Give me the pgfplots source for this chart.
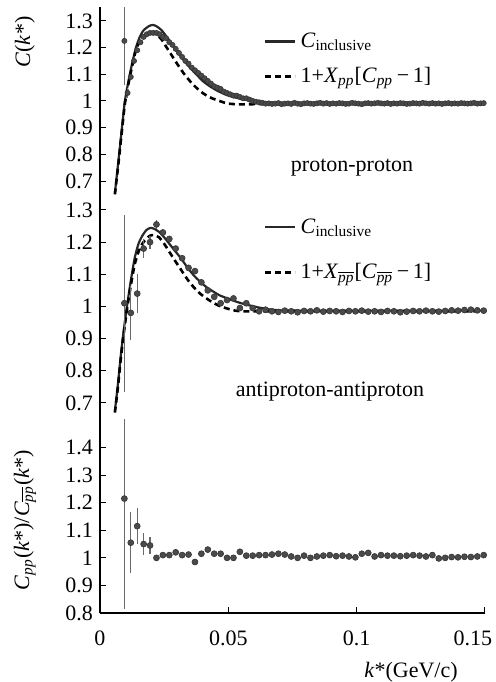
\documentclass[border=0pt]{standalone}
\usepackage{fontspec}
\setmainfont{Liberation Serif}
\usepackage{pgfplots}
\pgfplotsset{compat=1.18}

\definecolor{dotgray}{RGB}{74,74,74}
\definecolor{curvegray}{RGB}{40,40,40}
\definecolor{bargray}{RGB}{105,105,105}

\newcommand{\lbl}{\fontsize{11}{13}\selectfont}

\pgfplotsset{
  panel/.style={
    scale only axis, width=192.5pt,
    xmin=0, xmax=0.15,
    axis y line*=left,
    tick align=inside,
    major tick length=3pt,
    tick style={black, line width=0.5pt},
    axis line style={black, line width=0.6pt},
    /pgf/number format/assume math mode=true,
    tick label style={font=\lbl},
    clip mode=individual,
    legend image code/.code={\draw[##1] (0pt,0pt) -- (15pt,0pt);},
  },
  solidcurve/.style={curvegray, line width=1.1pt, smooth, tension=0.4},
  dashcurve/.style={black, line width=1.3pt, dash pattern=on 3pt off 2pt, smooth, tension=0.4},
  dots/.style={only marks, mark=*, mark size=#1,
    mark options={fill=dotgray, draw=dotgray!70!black, line width=0.3pt, solid},
    error bars/y dir=both, error bars/y explicit, error bars/error mark=none,
    error bars/error bar style={bargray, line width=0.6pt}},
}

% pp data, k [GeV/c], C, error
\pgfplotstableread{
k C e
0.0095 1.225 0.165
0.01075 1.03 0.02
0.012 1.09 0
0.01325 1.15 0
0.0145 1.19 0
0.01575 1.22 0
0.017 1.24 0
0.01825 1.25 0
0.0195 1.255 0
0.02075 1.255 0
0.022 1.255 0
0.02325 1.25 0
0.0245 1.24 0
0.02575 1.235 0
0.027 1.22 0
0.02825 1.21 0
0.0295 1.195 0
0.03075 1.18 0
0.032 1.165 0
0.03325 1.15 0
0.0345 1.14 0
0.03575 1.125 0
0.037 1.115 0
0.03825 1.105 0
0.0395 1.095 0
0.04075 1.085 0
0.042 1.075 0
0.04325 1.065 0
0.0445 1.055 0
0.04575 1.05 0
0.047 1.045 0
0.04825 1.035 0
0.0495 1.03 0
0.05075 1.025 0
0.052 1.02 0
0.05325 1.02 0
0.0545 1.015 0
0.05575 1.01 0
0.057 1.01 0
0.05825 1.005 0
0.0595 1.0 0
0.06075 0.997 0
0.062 0.995 0
0.06325 0.993 0
0.0645 0.99 0
0.06575 0.991 0
0.067 0.989 0
0.06825 0.990 0
0.0695 0.992 0
0.07075 0.988 0
0.072 0.990 0
0.07325 0.991 0
0.0745 0.989 0
0.07575 0.993 0
0.077 0.990 0
0.07825 0.988 0
0.0795 0.991 0
0.08075 0.992 0
0.082 0.990 0
0.08325 0.989 0
0.0845 0.991 0
0.08575 0.993 0
0.087 0.990 0
0.08825 0.992 0
0.0895 0.989 0
0.09075 0.991 0
0.092 0.990 0
0.09325 0.992 0
0.0945 0.991 0
0.09575 0.989 0
0.097 0.990 0
0.09825 0.993 0
0.0995 0.991 0
0.10075 0.990 0
0.102 0.988 0
0.10325 0.991 0
0.1045 0.992 0
0.10575 0.990 0
0.107 0.991 0
0.10825 0.993 0
0.1095 0.991 0
0.11075 0.990 0
0.112 0.992 0
0.11325 0.989 0
0.1145 0.991 0
0.11575 0.990 0
0.117 0.992 0
0.11825 0.991 0
0.1195 0.989 0
0.12075 0.990 0
0.122 0.992 0
0.12325 0.991 0
0.1245 0.990 0
0.12575 0.993 0
0.127 0.991 0
0.12825 0.990 0
0.1295 0.992 0
0.13075 0.990 0
0.132 0.991 0
0.13325 0.989 0
0.1345 0.991 0
0.13575 0.992 0
0.137 0.990 0
0.13825 0.991 0
0.1395 0.990 0
0.14075 0.992 0
0.142 0.991 0
0.14325 0.990 0
0.1445 0.991 0
0.14575 0.993 0
0.147 0.990 0
0.14825 0.991 0
0.1495 0.992 0
}\pptable

% antiproton-antiproton data
\pgfplotstableread{
k C e
0.0095 1.01 0.275
0.012 0.98 0.085
0.0145 1.04 0.06
0.017 1.18 0.03
0.0195 1.20 0.02
0.022 1.255 0.015
0.0245 1.23 0.01
0.027 1.21 0
0.0295 1.18 0
0.032 1.15 0
0.0345 1.12 0
0.037 1.11 0
0.0395 1.075 0
0.042 1.05 0
0.0445 1.03 0
0.047 1.01 0
0.0495 1.02 0
0.052 1.025 0
0.0545 0.995 0
0.057 1.01 0
0.0595 0.995 0
0.062 0.985 0
0.0645 0.99 0
0.067 0.985 0
0.0695 0.983 0
0.072 0.987 0
0.0745 0.985 0
0.077 0.982 0
0.0795 0.986 0
0.082 0.985 0
0.0845 0.988 0
0.087 0.984 0
0.0895 0.986 0
0.092 0.985 0
0.0945 0.983 0
0.097 0.986 0
0.0995 0.985 0
0.102 0.987 0
0.1045 0.984 0
0.107 0.985 0
0.1095 0.983 0
0.112 0.986 0
0.1145 0.985 0
0.117 0.982 0
0.1195 0.984 0
0.122 0.986 0
0.1245 0.985 0
0.127 0.987 0
0.1295 0.985 0
0.132 0.984 0
0.1345 0.986 0
0.137 0.988 0
0.1395 0.987 0
0.142 0.989 0
0.1445 0.990 0
0.147 0.988 0
0.1495 0.987 0
}\pbartable

% ratio pp / antiproton-antiproton
\pgfplotstableread{
k R e
0.0095 1.215 0.4
0.012 1.055 0.11
0.0145 1.115 0.065
0.017 1.05 0.04
0.0195 1.045 0.03
0.022 1.0 0
0.0245 1.01 0
0.027 1.01 0
0.0295 1.02 0
0.032 1.01 0
0.0345 1.012 0
0.037 0.985 0
0.0395 1.015 0
0.042 1.03 0
0.0445 1.015 0
0.047 1.015 0
0.0495 1.0 0
0.052 1.0 0
0.0545 1.022 0
0.057 1.008 0
0.0595 1.008 0
0.062 1.01 0
0.0645 1.01 0
0.067 1.012 0
0.0695 1.015 0
0.072 1.012 0
0.0745 1.005 0
0.077 1.0 0
0.0795 1.008 0
0.082 1.0 0
0.0845 1.005 0
0.087 1.008 0
0.0895 1.01 0
0.092 1.006 0
0.0945 1.008 0
0.097 1.005 0
0.0995 1.002 0
0.102 1.015 0
0.1045 1.018 0
0.107 1.005 0
0.1095 1.01 0
0.112 1.008 0
0.1145 1.008 0
0.117 1.006 0
0.1195 1.008 0
0.122 1.01 0
0.1245 1.008 0
0.127 1.005 0
0.1295 1.01 0
0.132 0.998 0
0.1345 1.0 0
0.137 1.003 0
0.1395 1.002 0
0.142 1.004 0
0.1445 1.003 0
0.147 1.005 0
0.1495 1.01 0
}\ratiotable

\begin{document}
\begin{tikzpicture}
\path[use as bounding box] (-50pt,-34.5pt) rectangle (198pt,306.5pt);

% ---------------- top: proton-proton
\begin{axis}[panel, at={(0pt,206.5pt)}, anchor=south west,
    height=96.5pt, ymin=0.629, ymax=1.352, hide x axis,
    ytick={0.7,0.8,0.9,1,1.1,1.2,1.3},
    yticklabels={0.7,0.8,0.9,1,1.1,1.2,1.3},
    legend style={draw=none, fill=none, inner sep=0pt, font=\lbl,
      at={(rel axis cs:0.425,0.73)}, anchor=west, cells={anchor=west},
      row sep=4.5pt},
]
\addplot[solidcurve] coordinates {
 (0.0058,0.655) (0.007,0.76) (0.008,0.85) (0.009,0.94) (0.0097,1.0)
 (0.011,1.07) (0.0125,1.14) (0.014,1.2) (0.0155,1.24) (0.017,1.265)
 (0.019,1.28) (0.0205,1.285) (0.022,1.28) (0.024,1.265) (0.026,1.24)
 (0.028,1.215) (0.030,1.19) (0.0325,1.155) (0.035,1.125) (0.0375,1.1)
 (0.040,1.075) (0.0425,1.057) (0.045,1.042) (0.0475,1.03) (0.050,1.02)
 (0.055,1.008) (0.06,1.0) (0.065,0.995) (0.07,0.993) (0.08,0.992)
 (0.1,0.992) (0.12,0.992) (0.15,0.992)};
\addlegendentry{\textit{C}\textsubscript{inclusive}}
\addplot[dashcurve] coordinates {
 (0.0058,0.65) (0.007,0.75) (0.008,0.84) (0.009,0.93) (0.0097,0.99)
 (0.011,1.06) (0.0125,1.13) (0.014,1.19) (0.0155,1.225) (0.017,1.245)
 (0.019,1.255) (0.0205,1.255) (0.022,1.25) (0.024,1.23) (0.026,1.2)
 (0.028,1.17) (0.030,1.14) (0.0325,1.105) (0.035,1.075) (0.0375,1.05)
 (0.040,1.03) (0.0425,1.015) (0.045,1.005) (0.0475,0.997) (0.050,0.99)
 (0.055,0.987) (0.06,0.988) (0.07,0.99) (0.1,0.99) (0.15,0.99)};
\addlegendentry{1+\textit{X}\textsubscript{\textit{pp}}[\textit{C}\textsubscript{\textit{pp}}\,−\,1]}
\addplot[forget plot, dots=1.3pt] table[x=k, y=C, y error=e] {\pptable};
\node[font=\lbl] at (axis cs:0.0982,0.749) {proton-proton};
\node[font=\lbl, rotate=90] at (rel axis cs:-0.195,0.819) {\textit{C}(\textit{k}*)};
\end{axis}

% ---------------- middle: antiproton-antiproton
\begin{axis}[panel, at={(0pt,96.5pt)}, anchor=south west,
    height=110pt, ymin=0.647, ymax=1.331, hide x axis,
    ytick={0.7,0.8,0.9,1,1.1,1.2,1.3},
    yticklabels={0.7,0.8,0.9,1,1.1,1.2,1.3},
    legend style={draw=none, fill=none, inner sep=0pt, font=\lbl,
      at={(rel axis cs:0.425,0.773)}, anchor=west, cells={anchor=west},
      row sep=9.5pt},
]
\addplot[solidcurve] coordinates {
 (0.0058,0.675) (0.007,0.76) (0.008,0.84) (0.009,0.91) (0.0105,1.0)
 (0.012,1.08) (0.0135,1.15) (0.015,1.195) (0.0165,1.22) (0.018,1.237)
 (0.0195,1.244) (0.021,1.242) (0.023,1.232) (0.025,1.215) (0.027,1.195)
 (0.029,1.175) (0.0315,1.15) (0.034,1.122) (0.0365,1.097) (0.039,1.077)
 (0.0415,1.06) (0.044,1.047) (0.0465,1.035) (0.049,1.027) (0.052,1.018)
 (0.055,1.01) (0.06,1.0) (0.065,0.992) (0.07,0.988) (0.08,0.987)
 (0.1,0.987) (0.15,0.987)};
\addlegendentry{\textit{C}\textsubscript{inclusive}}
\addplot[dashcurve] coordinates {
 (0.0058,0.67) (0.007,0.75) (0.008,0.83) (0.009,0.9) (0.0105,0.99)
 (0.012,1.065) (0.0135,1.13) (0.015,1.17) (0.0165,1.195) (0.018,1.21)
 (0.0195,1.22) (0.021,1.222) (0.023,1.215) (0.025,1.195) (0.027,1.17)
 (0.029,1.145) (0.0315,1.115) (0.034,1.085) (0.0365,1.06) (0.039,1.04)
 (0.0415,1.025) (0.044,1.012) (0.0465,1.002) (0.049,0.995) (0.052,0.988)
 (0.055,0.985) (0.06,0.985) (0.1,0.985) (0.15,0.985)};
\addlegendentry{1+\textit{X}\textsubscript{$\overline{\mbox{\textit{pp}}}$}[\textit{C}\textsubscript{$\overline{\mbox{\textit{pp}}}$}\,−\,1]}
\addplot[forget plot, dots=1.5pt] table[x=k, y=C, y error=e] {\pbartable};
\node[font=\lbl] at (axis cs:0.0896,0.735) {antiproton-antiproton};
\end{axis}

% ---------------- bottom: ratio
\begin{axis}[panel, at={(0pt,0pt)}, anchor=south west,
    height=96.5pt, ymin=0.8, ymax=1.5,
    axis x line*=bottom,
    xtick={0,0.05,0.1,0.15},
    xticklabels={0,0.05,0.1,{\makebox[0pt]{\hspace{-12pt}0.15}}},
    xticklabel style={yshift=-5.5pt},
    ytick={0.8,0.9,1,1.1,1.2,1.3,1.4},
    yticklabels={0.8,0.9,1,1.1,1.2,1.3,1.4},
]
\addplot[dots=1.5pt] table[x=k, y=R, y error=e] {\ratiotable};
\node[font=\lbl, rotate=90] at (rel axis cs:-0.195,0.482)
  {\textit{C}\textsubscript{\textit{pp}}(\textit{k}*)/\textit{C}\textsubscript{$\overline{\mbox{\textit{pp}}}$}(\textit{k}*)};
\node[font=\lbl] at (rel axis cs:0.808,0) [yshift=-29.5pt] {\textit{k}*(GeV/c)};
\end{axis}
\end{tikzpicture}
\end{document}
